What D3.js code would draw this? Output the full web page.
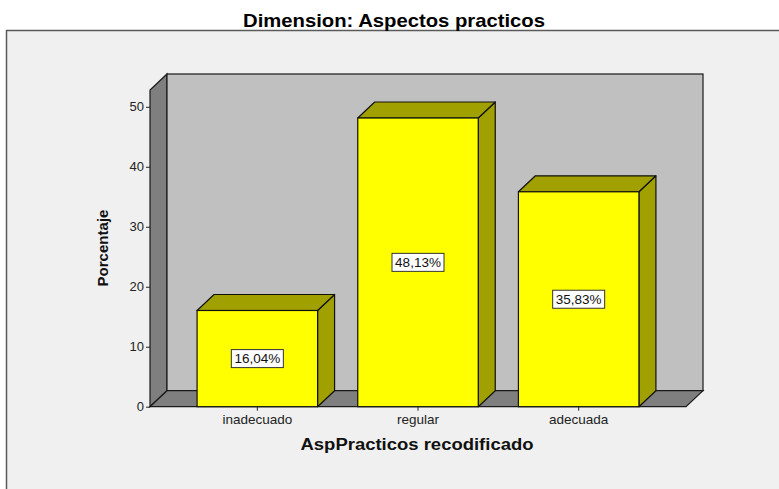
<!DOCTYPE html>
<html>
<head>
<meta charset="utf-8">
<script src="https://cdn.jsdelivr.net/npm/d3@7"></script>
<style>
  html, body { margin: 0; padding: 0; background: #ffffff; }
  svg { display: block; font-family: "Liberation Sans", Arial, sans-serif; }
</style>
</head>
<body>
<svg id="chart" width="779" height="489"></svg>
<script>
// ---- data ----
const categories = ["inadecuado", "regular", "adecuada"];
const values = [16.04, 48.13, 35.83];
const valueLabels = ["16,04%", "48,13%", "35,83%"];
const yTicks = [0, 10, 20, 30, 40, 50];
const chartTitle = "Dimension: Aspectos practicos";
const xTitle = "AspPracticos recodificado";
const yTitle = "Porcentaje";

// ---- layout ----
const W = 779, H = 489;
const x0 = 150, x1 = 686;        // front plane of x axis
const yBase = 406.7, yTopPx = 90; // front plane of y axis
const yMax = 52.8;
const dx = 17, dy = -16;          // 3D depth offset

const svg = d3.select("#chart");

const x = d3.scaleBand().domain(categories).range([x0, x1])
  .paddingInner(0.25).paddingOuter(0.293);
const y = d3.scaleLinear().domain([0, yMax]).range([yBase, yTopPx]);

// outer frame
svg.append("rect").attr("x", 6.5).attr("y", 30.5).attr("width", 900).attr("height", 600)
  .attr("fill", "#f0f0f0").attr("stroke", "#5a5a5a").attr("stroke-width", 1.5);

// title
svg.append("text").attr("x", 394).attr("y", 26.5).attr("text-anchor", "middle")
  .attr("font-size", 18.5).attr("font-weight", "bold").attr("fill", "#000")
  .attr("textLength", 302).attr("lengthAdjust", "spacingAndGlyphs")
  .text(chartTitle);

const wallStroke = "#1a1a1a";
const yT = y(yMax), yB = y(0);

// left wall
svg.append("polygon")
  .attr("points", [[x0, yB], [x0, yT], [x0 + dx, yT + dy], [x0 + dx, yB + dy]].map(p => p.join(",")).join(" "))
  .attr("fill", "#7f7f7f").attr("stroke", wallStroke).attr("stroke-width", 1.2);
// back wall
svg.append("rect").attr("x", x0 + dx).attr("y", yT + dy)
  .attr("width", (x1 + dx) - (x0 + dx)).attr("height", yB - yT)
  .attr("fill", "#c0c0c0").attr("stroke", wallStroke).attr("stroke-width", 1.2);
// floor
svg.append("polygon")
  .attr("points", [[x0, yB], [x1, yB], [x1 + dx, yB + dy], [x0 + dx, yB + dy]].map(p => p.join(",")).join(" "))
  .attr("fill", "#7f7f7f").attr("stroke", wallStroke).attr("stroke-width", 1.2);

// bars
const data = categories.map((c, i) => ({ c, v: values[i], label: valueLabels[i] }));
const bars = svg.append("g").selectAll("g").data(data).join("g");
const bw = x.bandwidth();
// side
bars.append("polygon")
  .attr("points", d => {
    const xr = x(d.c) + bw, yt = y(d.v);
    return [[xr, yB], [xr, yt], [xr + dx, yt + dy], [xr + dx, yB + dy]].map(p => p.join(",")).join(" ");
  })
  .attr("fill", "#a0a000").attr("stroke", "#111").attr("stroke-width", 1.2).attr("stroke-linejoin", "round");
// top
bars.append("polygon")
  .attr("points", d => {
    const xl = x(d.c), yt = y(d.v);
    return [[xl, yt], [xl + bw, yt], [xl + bw + dx, yt + dy], [xl + dx, yt + dy]].map(p => p.join(",")).join(" ");
  })
  .attr("fill", "#a0a000").attr("stroke", "#111").attr("stroke-width", 1.2).attr("stroke-linejoin", "round");
// front
bars.append("rect")
  .attr("x", d => x(d.c)).attr("y", d => y(d.v))
  .attr("width", bw).attr("height", d => yB - y(d.v))
  .attr("fill", "#ffff00").attr("stroke", "#111").attr("stroke-width", 1.2);

// value labels
const lbl = bars.append("g")
  .attr("transform", d => `translate(${x(d.c) + bw / 2},${(y(d.v) + yB) / 2})`);
lbl.append("rect").attr("x", -26).attr("y", -9).attr("width", 52).attr("height", 18)
  .attr("fill", "#ffffff").attr("stroke", "#333").attr("stroke-width", 1);
lbl.append("text").attr("text-anchor", "middle").attr("dy", "0.36em")
  .attr("font-size", 13.5).attr("fill", "#111").text(d => d.label);

// y axis
const yAxis = svg.append("g").attr("transform", `translate(${x0},0)`)
  .call(d3.axisLeft(y).tickValues(yTicks).tickSize(4).tickPadding(2).tickFormat(d3.format("d")));
yAxis.select(".domain").remove();
yAxis.selectAll(".tick line").attr("stroke", "#222");
yAxis.selectAll(".tick text").attr("font-size", 13).attr("fill", "#222")
  .attr("font-family", "Liberation Sans, Arial, sans-serif");

// x axis
const xAxis = svg.append("g").attr("transform", `translate(0,${yB})`)
  .call(d3.axisBottom(x).tickSize(4).tickPadding(4));
xAxis.select(".domain").remove();
xAxis.selectAll(".tick line").attr("stroke", "#222");
xAxis.selectAll(".tick text").attr("font-size", 13.5).attr("fill", "#222")
  .attr("font-family", "Liberation Sans, Arial, sans-serif");

// axis titles
svg.append("text").attr("x", 417).attr("y", 450).attr("text-anchor", "middle")
  .attr("font-size", 16).attr("font-weight", "bold").attr("fill", "#111")
  .attr("textLength", 233).attr("lengthAdjust", "spacingAndGlyphs")
  .text(xTitle);

svg.append("text").attr("transform", "translate(108,248) rotate(-90)")
  .attr("text-anchor", "middle")
  .attr("font-size", 15).attr("font-weight", "bold").attr("fill", "#111")
  .attr("textLength", 77).attr("lengthAdjust", "spacingAndGlyphs")
  .text(yTitle);
</script>
</body>
</html>
